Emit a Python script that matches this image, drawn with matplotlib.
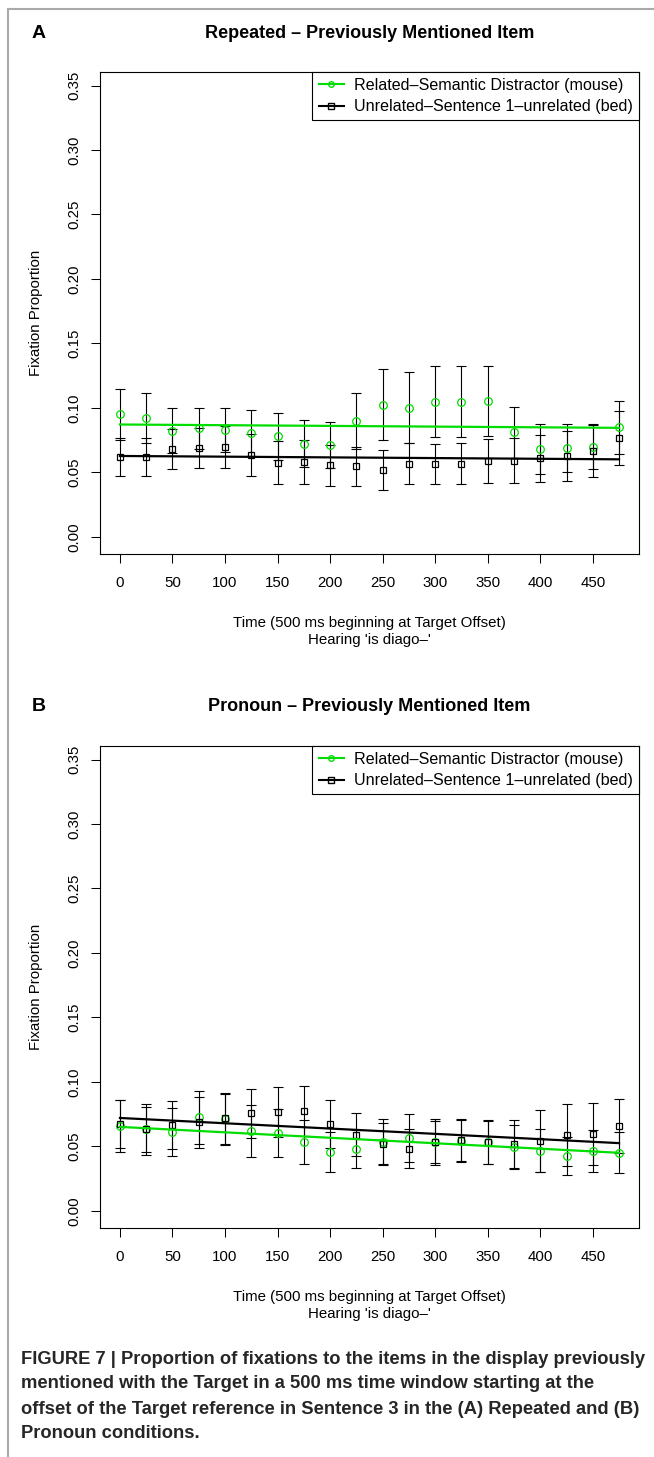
import matplotlib
matplotlib.use("Agg")
import matplotlib.pyplot as plt
from matplotlib.lines import Line2D

plt.rcParams['font.family'] = ['Liberation Sans', 'DejaVu Sans']

# 数据：时间点（ms）
times = [0, 25, 50, 75, 100, 125, 150, 175, 200, 225,
         250, 275, 300, 325, 350, 375, 400, 425, 450, 475]
xtick_vals = [0, 50, 100, 150, 200, 250, 300, 350, 400, 450]
ytick_vals = [0.00, 0.05, 0.10, 0.15, 0.20, 0.25, 0.30, 0.35]

series_names = ['Related\u2013Semantic Distractor (mouse)',
                'Unrelated\u2013Sentence 1\u2013unrelated (bed)']
panel_letters = ['A', 'B']
panel_titles = ['Repeated \u2013 Previously Mentioned Item',
                'Pronoun \u2013 Previously Mentioned Item']
xlabel_lines = ['Time (500 ms beginning at Target Offset)',
                "Hearing 'is diago\u2013'"]
caption_lines = [
    'FIGURE 7 | Proportion of fixations to the items in the display previously',
    'mentioned with the Target in a 500 ms time window starting at the',
    'offset of the Target reference in Sentence 3 in the (A) Repeated and (B)',
    'Pronoun conditions.',
]

# (A) Repeated
a_related = [0.0953, 0.0924, 0.0823, 0.0844, 0.0831, 0.0805, 0.0779, 0.0724, 0.0711, 0.0898,
             0.1026, 0.1003, 0.1047, 0.1049, 0.1052, 0.0810, 0.0685, 0.0688, 0.0701, 0.0849]
a_related_err = [0.0198, 0.0194, 0.0174, 0.0159, 0.0169, 0.0178, 0.0185, 0.0180, 0.0177, 0.0216,
                 0.0273, 0.0276, 0.0275, 0.0273, 0.0273, 0.0201, 0.0194, 0.0184, 0.0177, 0.0203]
a_unrelated = [0.0622, 0.0622, 0.0680, 0.0690, 0.0698, 0.0633, 0.0576, 0.0581, 0.0555, 0.0547,
               0.0521, 0.0568, 0.0565, 0.0568, 0.0591, 0.0591, 0.0609, 0.0628, 0.0664, 0.0768]
a_unrelated_err = [0.0147, 0.0147, 0.0154, 0.0156, 0.0161, 0.0163, 0.0169, 0.0174, 0.0159, 0.0154,
                   0.0155, 0.0159, 0.0156, 0.0159, 0.0172, 0.0176, 0.0185, 0.0194, 0.0201, 0.0208]
a_fit_related = [0.0872, 0.0846]
a_fit_unrelated = [0.0628, 0.0602]

# (B) Pronoun
b_related = [0.0660, 0.0632, 0.0611, 0.0725, 0.0710, 0.0621, 0.0601, 0.0536, 0.0457, 0.0477,
             0.0536, 0.0567, 0.0536, 0.0544, 0.0534, 0.0498, 0.0467, 0.0428, 0.0464, 0.0451]
b_related_err = [0.0201, 0.0175, 0.0186, 0.0204, 0.0195, 0.0200, 0.0186, 0.0170, 0.0155, 0.0147,
                 0.0175, 0.0186, 0.0179, 0.0163, 0.0168, 0.0170, 0.0165, 0.0147, 0.0165, 0.0160]
b_unrelated = [0.0675, 0.0632, 0.0665, 0.0686, 0.0717, 0.0758, 0.0766, 0.0774, 0.0673, 0.0591,
               0.0518, 0.0482, 0.0534, 0.0549, 0.0531, 0.0518, 0.0542, 0.0591, 0.0598, 0.0660]
b_unrelated_err = [0.0183, 0.0200, 0.0184, 0.0194, 0.0195, 0.0191, 0.0194, 0.0196, 0.0186, 0.0165,
                   0.0163, 0.0151, 0.0161, 0.0163, 0.0168, 0.0186, 0.0240, 0.0241, 0.0240, 0.0209]
b_fit_related = [0.0652, 0.0451]
b_fit_unrelated = [0.0721, 0.0526]

GREEN = '#00dd00'
W, H = 654, 1457
fig = plt.figure(figsize=(W / 100, H / 100), dpi=100)


def px_rect(l, t, r, b):
    return [l / W, 1 - b / H, (r - l) / W, (b - t) / H]


def draw_panel(dy, letter, title, rel, rel_err, unrel, unrel_err, fit_rel, fit_unrel):
    ax = fig.add_axes(px_rect(100, 71.7 + dy, 639, 554 + dy))
    ax.errorbar(times, rel, yerr=rel_err, fmt='none', ecolor='black',
                elinewidth=0.8, capsize=3.3, capthick=0.8)
    ax.errorbar(times, unrel, yerr=unrel_err, fmt='none', ecolor='black',
                elinewidth=0.8, capsize=3.3, capthick=0.8)
    ax.plot(times, rel, 'o', mfc='none', mec=GREEN, ms=5.5, mew=0.9)
    ax.plot(times, unrel, 's', mfc='none', mec='black', ms=5, mew=0.9)
    ax.plot([times[0], times[-1]], fit_rel, color=GREEN, lw=1.6)
    ax.plot([times[0], times[-1]], fit_unrel, color='black', lw=1.6)

    ax.set_xlim(-19, 494)
    ax.set_ylim(-0.0132, 0.3607)
    ax.set_xticks(xtick_vals)
    ax.set_yticks(ytick_vals)
    ax.set_yticklabels(['%.2f' % v for v in ytick_vals], rotation=90, va='center')
    ax.tick_params(direction='out', length=6.5, width=0.75, labelsize=10.8)
    ax.tick_params(axis='x', pad=9)
    ax.tick_params(axis='y', pad=7)
    for sp in ax.spines.values():
        sp.set_linewidth(0.8)

    ax.set_ylabel('Fixation Proportion', fontsize=10.8)
    ax.yaxis.set_label_coords((43 - 100) / 539, 0.5)

    handles = [Line2D([], [], color=GREEN, marker='o', mfc='none', ms=4, lw=1.5),
               Line2D([], [], color='black', marker='s', mfc='none', ms=4, lw=1.5)]
    leg = ax.legend(handles, series_names, loc='upper right', bbox_to_anchor=(1, 1),
                    borderaxespad=0, fancybox=False, edgecolor='black', framealpha=1,
                    fontsize=11.6, handlelength=1.6, handletextpad=0.6,
                    borderpad=0.38, labelspacing=0.4)
    leg.get_frame().set_linewidth(0.8)

    fig.text(39 / W, 1 - (33 + dy) / H, letter, fontsize=14, fontweight='bold',
             ha='center', va='center')
    fig.text(369.5 / W, 1 - (33 + dy) / H, title, fontsize=13, fontweight='bold',
             ha='center', va='center')
    fig.text(369.5 / W, 1 - (623 + dy) / H, xlabel_lines[0], fontsize=10.8,
             ha='center', va='center')
    fig.text(369.5 / W, 1 - (640 + dy) / H, xlabel_lines[1], fontsize=10.8,
             ha='center', va='center')
    return ax


draw_panel(0, panel_letters[0], panel_titles[0], a_related, a_related_err,
           a_unrelated, a_unrelated_err, a_fit_related, a_fit_unrelated)
draw_panel(674, panel_letters[1], panel_titles[1], b_related, b_related_err,
           b_unrelated, b_unrelated_err, b_fit_related, b_fit_unrelated)

# 外框（左、上）
fig.add_artist(Line2D([7.5 / W, 7.5 / W], [0, 1 - 9 / H], transform=fig.transFigure,
                      color='#aaaaaa', lw=1.5))
fig.add_artist(Line2D([7.5 / W, 1], [1 - 9 / H, 1 - 9 / H], transform=fig.transFigure,
                      color='#aaaaaa', lw=1.5))

# 图注
for i, line in enumerate(caption_lines):
    fig.text(21 / W, 1 - (1359 + 25 * i) / H, line, fontsize=13.2, fontweight='bold',
             color='#262626', ha='left', va='center')

fig.savefig('out.png', dpi=100)
